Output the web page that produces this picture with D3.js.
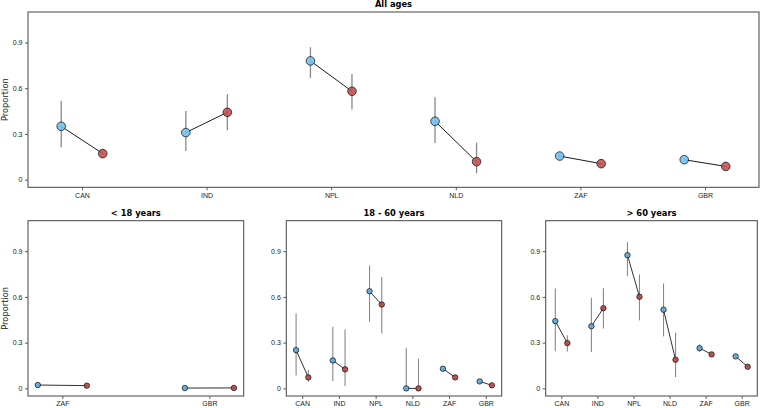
<!DOCTYPE html>
<html>
<head>
<meta charset="utf-8">
<script src="https://cdn.jsdelivr.net/npm/d3@7/dist/d3.min.js"></script>
<style>
  html, body { margin: 0; padding: 0; background: #fff; }
  svg { display: block; font-family: "DejaVu Sans", sans-serif; }
</style>
</head>
<body>
<svg id="chart" width="762" height="408"></svg>
<script>
// ---------------- DATA ----------------
const countries = ["CAN", "IND", "NPL", "NLD", "ZAF", "GBR"];
const youthCountries = ["ZAF", "GBR"];
const yTicks = [0, 0.3, 0.6, 0.9];
const yTickLabels = ["0", "0.3", "0.6", "0.9"];
const panelTitles = ["All ages", "< 18 years", "18 - 60 years", "> 60 years"];

// All ages
const allA   = [0.350, 0.309, 0.779, 0.383, 0.155, 0.131];
const allALo = [0.212, 0.188, 0.666, 0.241, 0.140, 0.125];
const allAHi = [0.516, 0.451, 0.869, 0.541, 0.170, 0.137];
const allB   = [0.171, 0.442, 0.580, 0.118, 0.105, 0.087];
const allBLo = [0.165, 0.324, 0.460, 0.043, 0.100, 0.083];
const allBHi = [0.177, 0.560, 0.694, 0.243, 0.110, 0.091];

// < 18 years
const youngA   = [0.022, 0.002];
const youngALo = [0.020, 0.001];
const youngAHi = [0.024, 0.003];
const youngB   = [0.018, 0.003];
const youngBLo = [0.016, 0.002];
const youngBHi = [0.020, 0.004];

// 18 - 60 years
const midA   = [0.251, 0.183, 0.637, 0.000, 0.129, 0.046];
const midALo = [0.085, 0.048, 0.437, 0.000, 0.124, 0.042];
const midAHi = [0.491, 0.404, 0.806, 0.267, 0.134, 0.050];
const midB   = [0.072, 0.125, 0.550, 0.000, 0.072, 0.020];
const midBLo = [0.044, 0.015, 0.360, 0.000, 0.068, 0.017];
const midBHi = [0.120, 0.387, 0.731, 0.195, 0.076, 0.023];

// > 60 years
const oldA   = [0.441, 0.408, 0.874, 0.516, 0.264, 0.210];
const oldALo = [0.244, 0.238, 0.738, 0.341, 0.240, 0.203];
const oldAHi = [0.655, 0.594, 0.959, 0.688, 0.288, 0.217];
const oldB   = [0.297, 0.526, 0.601, 0.188, 0.223, 0.142];
const oldBLo = [0.242, 0.393, 0.446, 0.074, 0.217, 0.137];
const oldBHi = [0.349, 0.657, 0.747, 0.365, 0.229, 0.147];

// ---------------- DRAW ----------------
const svg = d3.select("#chart");

function drawPanel(cfg) {
  const { title, cats, A, ALo, AHi, B, BLo, BHi, box, r, ylabel, big } = cfg;
  const n = cats.length;
  const off = 1 / 6;
  const span = (n - 1) + 2 * off;
  const m = span * 0.05;
  const x = d3.scaleLinear().domain([-off - m, n - 1 + off + m]).range([box.l, box.r]);
  const y = d3.scaleLinear().domain([-0.05, 1.1]).range([box.b, box.t]);
  const g = svg.append("g");

  const blue = big ? "#74c2ef" : "#5aabe0";
  const red = big ? "#c65150" : "#bb4443";

  // x axis
  const xa = g.append("g").attr("transform", `translate(0,${box.b})`)
    .call(d3.axisBottom(x).tickValues(d3.range(n)).tickFormat(i => cats[i]).tickSize(3).tickPadding(2.5));
  xa.select(".domain").remove();
  xa.selectAll("line").attr("stroke", "#333").attr("stroke-width", 0.8);
  xa.selectAll("text").attr("font-size", 7).attr("fill", "#222");

  // y axis
  const ya = g.append("g").attr("transform", `translate(${box.l},0)`)
    .call(d3.axisLeft(y).tickValues(yTicks).tickFormat((d, i) => yTickLabels[i]).tickSize(3).tickPadding(2.5));
  ya.select(".domain").remove();
  ya.selectAll("line").attr("stroke", "#333").attr("stroke-width", 0.8);
  ya.selectAll("text").attr("font-size", 7).attr("fill", "#222");

  // frame
  g.append("rect").attr("x", box.l).attr("y", box.t)
    .attr("width", box.r - box.l).attr("height", box.b - box.t)
    .attr("fill", "none").attr("stroke", "#444").attr("stroke-width", 1);

  // title
  g.append("text").attr("x", (box.l + box.r) / 2).attr("y", box.t - 5)
    .attr("text-anchor", "middle").attr("font-size", 8.3).attr("font-weight", "bold")
    .attr("fill", "#000").text(title);

  if (ylabel) {
    g.append("text")
      .attr("transform", `translate(${box.l - 20.5},${(y(1.1) + y(-0.05)) / 2}) rotate(-90)`)
      .attr("text-anchor", "middle").attr("font-size", 8.3).attr("fill", "#222")
      .text("Proportion");
  }

  const idx = d3.range(n);
  const ebw = big ? 1.3 : 1.1;

  // error bars
  g.selectAll(".ebA").data(idx).join("line")
    .attr("x1", i => x(i - off)).attr("x2", i => x(i - off))
    .attr("y1", i => y(ALo[i])).attr("y2", i => y(AHi[i]))
    .attr("stroke", "#888").attr("stroke-width", ebw);
  g.selectAll(".ebB").data(idx).join("line")
    .attr("x1", i => x(i + off)).attr("x2", i => x(i + off))
    .attr("y1", i => y(BLo[i])).attr("y2", i => y(BHi[i]))
    .attr("stroke", "#888").attr("stroke-width", ebw);

  // connecting lines
  g.selectAll(".conn").data(idx).join("line")
    .attr("x1", i => x(i - off)).attr("y1", i => y(A[i]))
    .attr("x2", i => x(i + off)).attr("y2", i => y(B[i]))
    .attr("stroke", "#1a1a1a").attr("stroke-width", big ? 1 : 0.9);

  // markers
  g.selectAll(".mA").data(idx).join("circle")
    .attr("cx", i => x(i - off)).attr("cy", i => y(A[i])).attr("r", r)
    .attr("fill", blue).attr("fill-opacity", 0.9)
    .attr("stroke", "#1a1a1a").attr("stroke-width", 0.8);
  g.selectAll(".mB").data(idx).join("circle")
    .attr("cx", i => x(i + off)).attr("cy", i => y(B[i])).attr("r", r)
    .attr("fill", red).attr("fill-opacity", 0.9)
    .attr("stroke", "#1a1a1a").attr("stroke-width", 0.8);
}

drawPanel({ title: panelTitles[0], cats: countries,
  A: allA, ALo: allALo, AHi: allAHi, B: allB, BLo: allBLo, BHi: allBHi,
  box: { l: 28, r: 759, t: 12, b: 187.3 }, r: 4.3, ylabel: true, big: true });

drawPanel({ title: panelTitles[1], cats: youthCountries,
  A: youngA, ALo: youngALo, AHi: youngAHi, B: youngB, BLo: youngBLo, BHi: youngBHi,
  box: { l: 28, r: 243.7, t: 220.7, b: 396 }, r: 2.7, ylabel: true, big: false });

drawPanel({ title: panelTitles[2], cats: countries,
  A: midA, ALo: midALo, AHi: midAHi, B: midB, BLo: midBLo, BHi: midBHi,
  box: { l: 286.3, r: 501.7, t: 220.7, b: 396 }, r: 2.7, ylabel: false, big: false });

drawPanel({ title: panelTitles[3], cats: countries,
  A: oldA, ALo: oldALo, AHi: oldAHi, B: oldB, BLo: oldBLo, BHi: oldBHi,
  box: { l: 545.7, r: 757.3, t: 220.7, b: 396 }, r: 2.7, ylabel: false, big: false });
</script>
</body>
</html>
